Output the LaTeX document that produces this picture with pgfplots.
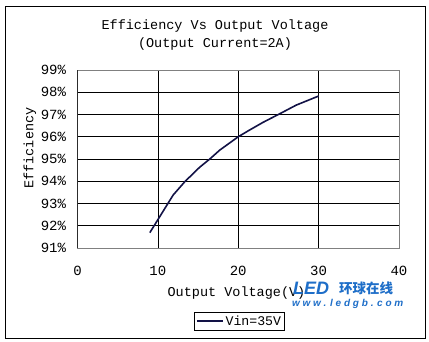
\documentclass[border=0pt]{standalone}
\usepackage{pgfplots}
\pgfplotsset{compat=1.18}
\usepackage{fontspec}
\setmainfont{Liberation Mono}
\newfontfamily\cjk{Noto Sans CJK SC}
\newfontfamily\wm{Liberation Sans}
\definecolor{navy}{RGB}{18,18,70}
\definecolor{wmblue}{RGB}{30,110,200}
\definecolor{gridgray}{RGB}{128,128,128}
\begin{document}
\begin{tikzpicture}
\useasboundingbox (-77.5pt,-94pt) rectangle (351.5pt,248pt);
\draw[black,line width=0.9pt] (-72.5pt,-90pt) rectangle (347.5pt,242pt);
\node[font=\fontsize{13.5}{16}\selectfont] at (137.5pt,222pt) {Efficiency Vs Output Voltage};
\node[font=\fontsize{13.5}{16}\selectfont] at (137.5pt,204pt) {(Output Current=2A)};
\begin{axis}[
  at={(0pt,0pt)}, anchor=south west,
  scale only axis, width=321.5pt, height=178pt,
  xmin=0, xmax=40, ymin=91, ymax=99,
  xtick={0,10,20,30,40},
  ytick={91,92,93,94,95,96,97,98,99},
  yticklabels={91\%,92\%,93\%,94\%,95\%,96\%,97\%,98\%,99\%},
  /pgf/number format/assume math mode=true,
  tick style={draw=none},
  major tick length=0pt,
  ticklabel style={font=\fontsize{14}{16}\selectfont},
  yticklabel style={xshift=-8pt},
  xticklabel style={yshift=-15pt},
  grid=major,
  major grid style={black,line width=0.7pt},
  axis line style={gridgray,line width=0.8pt},
  xlabel={Output Voltage(V)},
  ylabel={Efficiency},
  label style={font=\fontsize{13.5}{16}\selectfont},
  xlabel style={at={(rel axis cs:0.4945,0)}, anchor=center, yshift=-45pt},
  ylabel style={at={(rel axis cs:0,0.5618)}, anchor=center, yshift=47.5pt},
  legend style={at={(0.504,-0.41)}, anchor=center, draw=black, line width=0.8pt,
    font=\fontsize{13.2}{15}\selectfont, inner sep=1.5pt, row sep=0pt},
  legend image code/.code={\draw[#1] (0pt,0pt) -- (26pt,0pt);},
  legend cell align=left,
]
\addplot[navy, line width=1.6pt, line join=round] coordinates {
(9.0,91.69) (11.9,93.38) (13.35,93.98) (15.2,94.63) (16.46,95.0) (17.7,95.4)
(20.0,96.0) (21.4,96.3) (23.1,96.65) (25.2,97.04) (27.2,97.42) (30.0,97.83)
};
\addlegendentry{Vin=35V}
\draw[black,line width=0.8pt] (rel axis cs:0,1) -- (rel axis cs:0,0) -- (rel axis cs:1,0);
\end{axis}
\node[wmblue,font=\wm\bfseries\itshape\fontsize{18}{19}\selectfont,anchor=west] at (212pt,-40pt) {LED};
\node[wmblue,font=\cjk\bfseries\fontsize{13.5}{14}\selectfont,anchor=west] at (258pt,-40pt) {环球在线};
\node[wmblue,font=\wm\bfseries\itshape\fontsize{10}{11}\selectfont,anchor=west] at (211pt,-56pt) {w w w . l e d g b . c o m};
\end{tikzpicture}
\end{document}
